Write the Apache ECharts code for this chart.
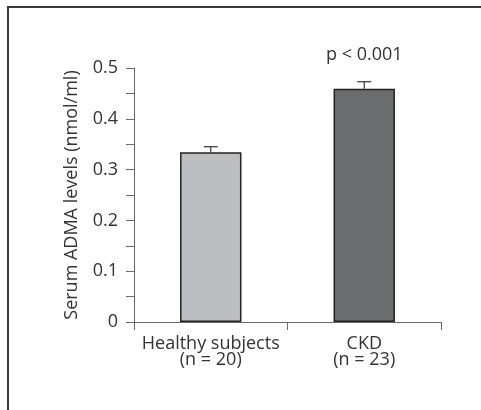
<!DOCTYPE html>
<html>
<head>
<meta charset="utf-8">
<script src="https://cdn.jsdelivr.net/npm/echarts@6/dist/echarts.min.js"></script>
<style>html,body{margin:0;padding:0;background:#fff}#c{width:481px;height:410px}</style>
</head>
<body>
<div id="c"></div>
<script>
const categories = ['Healthy subjects\n(n = 20)', 'CKD\n(n = 23)'];
const means = [0.334, 0.459];
const errors = [0.011, 0.014];
const barColors = ['#bdbec2', '#6b6c6e'];
const annotations = ['', 'p < 0.001'];
const yTicks = [0, 0.1, 0.2, 0.3, 0.4, 0.5];
const yTitle = 'Serum ADMA levels (nmol/ml)';

const FONT = '"Open Sans", "Noto Sans", sans-serif';
const FS = 18;
const chart = echarts.init(document.getElementById('c'), null, {renderer: 'canvas'});
chart.setOption({
  animation: false,
  backgroundColor: '#fff',
  graphic: [{
    type: 'rect', shape: {x: 8, y: 7, width: 520, height: 440},
    style: {fill: 'none', stroke: '#3a3a3a', lineWidth: 2}, silent: true
  }],
  grid: {left: 134, right: 40, top: 68, bottom: 88},
  xAxis: {
    type: 'category', data: categories, boundaryGap: true,
    axisLine: {lineStyle: {color: '#6a6a6a', width: 1}},
    axisTick: {show: true, length: 8, lineStyle: {color: '#6a6a6a'}},
    axisLabel: {color: '#333', fontSize: FS, fontFamily: FONT, lineHeight: 16, margin: 14, interval: 0}
  },
  yAxis: {
    type: 'value', min: yTicks[0], max: yTicks[yTicks.length - 1], interval: 0.1,
    axisLine: {show: true, lineStyle: {color: '#6a6a6a', width: 1}},
    axisTick: {show: true, length: 8, lineStyle: {color: '#6a6a6a'}},
    minorTick: {show: true, splitNumber: 2, length: 8, lineStyle: {color: '#6a6a6a'}},
    splitLine: {show: false},
    axisLabel: {color: '#333', fontSize: FS, fontFamily: FONT, margin: 16,
      formatter: v => String(Math.round(v * 10) / 10)},
    name: yTitle, nameLocation: 'middle', nameGap: 53, nameRotate: 90,
    nameTextStyle: {color: '#333', fontSize: FS, fontFamily: FONT}
  },
  series: [{
    type: 'bar', barWidth: '40%',
    data: means.map((v, i) => ({value: v, itemStyle: {color: barColors[i]}})),
    itemStyle: {borderColor: '#222', borderWidth: 1.5}
  }, {
    type: 'custom',
    data: means.map((v, i) => [i, v, errors[i]]),
    renderItem: function (params, api) {
      const i = api.value(0), m = api.value(1), e = api.value(2);
      const base = api.coord([i, m]);
      const top = api.coord([i, m + e]);
      const hw = 7;
      const children = [
        {type: 'line', shape: {x1: base[0], y1: base[1], x2: top[0], y2: top[1]}, style: {stroke: '#333', lineWidth: 1.2}},
        {type: 'line', shape: {x1: top[0] - hw, y1: top[1], x2: top[0] + hw, y2: top[1]}, style: {stroke: '#333', lineWidth: 1.2}}
      ];
      const txt = annotations[params.dataIndex];
      if (txt) {
        children.push({type: 'text', style: {text: txt, x: top[0], y: top[1] - 27, align: 'center', verticalAlign: 'middle',
          fill: '#333', fontSize: FS, fontFamily: FONT}});
      }
      return {type: 'group', children: children};
    },
    z: 5
  }]
});
</script>
</body>
</html>
